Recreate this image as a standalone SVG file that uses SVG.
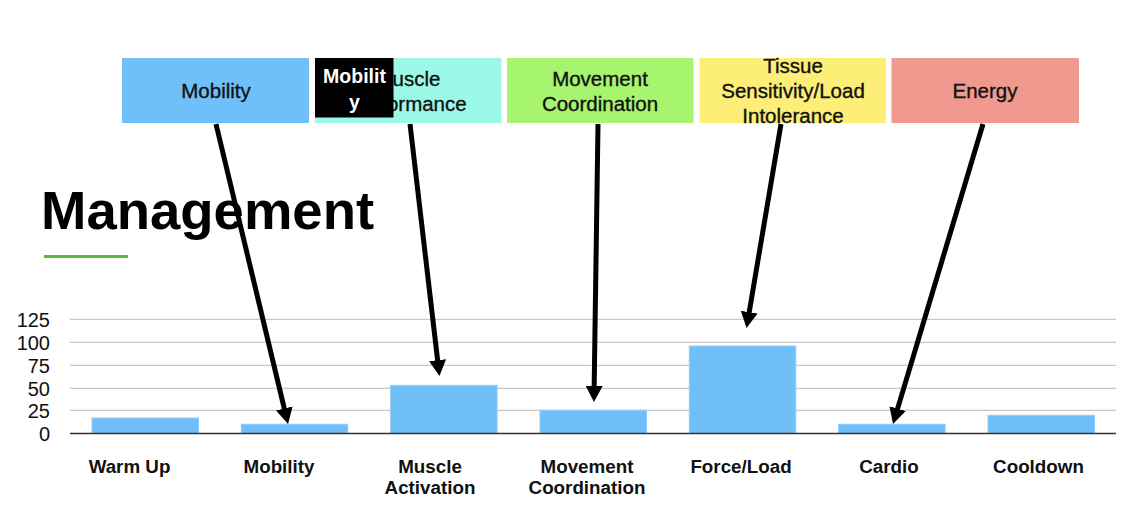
<svg xmlns="http://www.w3.org/2000/svg" width="1148" height="508" viewBox="0 0 1148 508">
<defs>
<style>
.box-t{font-family:"Liberation Sans",Arial,sans-serif;font-size:20.5px;fill:#111;stroke:#111;stroke-width:0.35;text-anchor:middle}
.ax{font-family:"Liberation Sans",Arial,sans-serif;font-size:20px;fill:#111;text-anchor:end}
.cat{font-family:"Liberation Sans",Arial,sans-serif;font-size:18.8px;font-weight:bold;fill:#111;text-anchor:middle}
.grid{stroke:#c8c8c8;stroke-width:1.3}
.bar{fill:#71bff8;stroke:#8fcdfa;stroke-width:1}
.arr{stroke:#000;stroke-width:5;fill:none;marker-end:url(#ah)}
</style>
<marker id="ah" markerUnits="userSpaceOnUse" markerWidth="17" markerHeight="17" refX="6" refY="8.5" orient="auto">
<path d="M0,0 L16,8.5 L0,17 z" fill="#000"/>
</marker>
</defs>
<rect width="1148" height="508" fill="#fff"/>

<g id="title">
<text x="41" y="229" font-family="'Liberation Sans',Arial,sans-serif" font-size="54.5" font-weight="bold" fill="#000">Management</text>
<line x1="44" y1="256.5" x2="128" y2="256.5" stroke="#5db543" stroke-width="3"/>
</g>

<g id="chart">
<line class="grid" x1="70" y1="319.3" x2="1116" y2="319.3"/>
<line class="grid" x1="70" y1="342.3" x2="1116" y2="342.3"/>
<line class="grid" x1="70" y1="365.3" x2="1116" y2="365.3"/>
<line class="grid" x1="70" y1="388.3" x2="1116" y2="388.3"/>
<line class="grid" x1="70" y1="410.3" x2="1116" y2="410.3"/>
<text class="ax" x="50" y="327">125</text>
<text class="ax" x="50" y="350">100</text>
<text class="ax" x="50" y="373">75</text>
<text class="ax" x="50" y="396">50</text>
<text class="ax" x="50" y="418">25</text>
<text class="ax" x="50" y="441">0</text>
<rect class="bar" x="92" y="418" width="106.5" height="15.3"/>
<rect class="bar" x="241.3" y="424.3" width="106.5" height="9"/>
<rect class="bar" x="390.6" y="385.3" width="106.5" height="48"/>
<rect class="bar" x="540" y="410.3" width="106.5" height="23"/>
<rect class="bar" x="689.3" y="346" width="106.5" height="87.3"/>
<rect class="bar" x="838.6" y="424.3" width="106.5" height="9"/>
<rect class="bar" x="988" y="415.3" width="106.5" height="18"/>
<line x1="70" y1="433.5" x2="1116" y2="433.5" stroke="#333" stroke-width="1.5"/>
<text class="cat" x="129.5" y="472.5">Warm Up</text>
<text class="cat" x="279" y="472.5">Mobility</text>
<text class="cat" x="430" y="472.5">Muscle</text>
<text class="cat" x="430" y="493.5">Activation</text>
<text class="cat" x="587" y="472.5">Movement</text>
<text class="cat" x="587" y="493.5">Coordination</text>
<text class="cat" x="741" y="472.5">Force/Load</text>
<text class="cat" x="889" y="472.5">Cardio</text>
<text class="cat" x="1038.5" y="472.5">Cooldown</text>
</g>

<g id="box-mobility">
<rect x="122" y="58" width="187" height="65" fill="#6fbff9"/>
<text class="box-t" x="216" y="98">Mobility</text>
</g>
<g id="box-muscle">
<rect x="315" y="58" width="186.5" height="65" fill="#9cf9e8"/>
<text class="box-t" x="408" y="86">Muscle</text>
<text class="box-t" x="408" y="111">Performance</text>
</g>
<g id="box-mobility-overlay">
<rect x="315" y="58" width="78.5" height="59.5" fill="#000"/>
<text x="354.5" y="83" font-family="'Liberation Sans',Arial,sans-serif" font-size="19.5" font-weight="bold" fill="#fff" text-anchor="middle">Mobilit</text>
<text x="354.5" y="109" font-family="'Liberation Sans',Arial,sans-serif" font-size="19.5" font-weight="bold" fill="#fff" text-anchor="middle">y</text>
</g>
<g id="box-movement">
<rect x="507" y="58" width="186.5" height="65" fill="#a7f46e"/>
<text class="box-t" x="600" y="86">Movement</text>
<text class="box-t" x="600" y="111">Coordination</text>
</g>
<g id="box-tissue">
<rect x="699.5" y="58" width="186.5" height="65" fill="#fcee76"/>
<text class="box-t" x="793" y="73">Tissue</text>
<text class="box-t" x="793" y="98">Sensitivity/Load</text>
<text class="box-t" x="793" y="123">Intolerance</text>
</g>
<g id="box-energy">
<rect x="891.5" y="58" width="187.5" height="65" fill="#f09a8f"/>
<text class="box-t" x="985" y="98">Energy</text>
</g>

<g id="connectors">
<line class="arr" x1="216" y1="124" x2="285.7" y2="414.3"/>
<line class="arr" x1="410" y1="124" x2="438.3" y2="366.1"/>
<line class="arr" x1="598" y1="124" x2="594.1" y2="392"/>
<line class="arr" x1="781" y1="124" x2="748.2" y2="318.1"/>
<line class="arr" x1="983" y1="124" x2="895.9" y2="414.4"/>
</g>
</svg>
